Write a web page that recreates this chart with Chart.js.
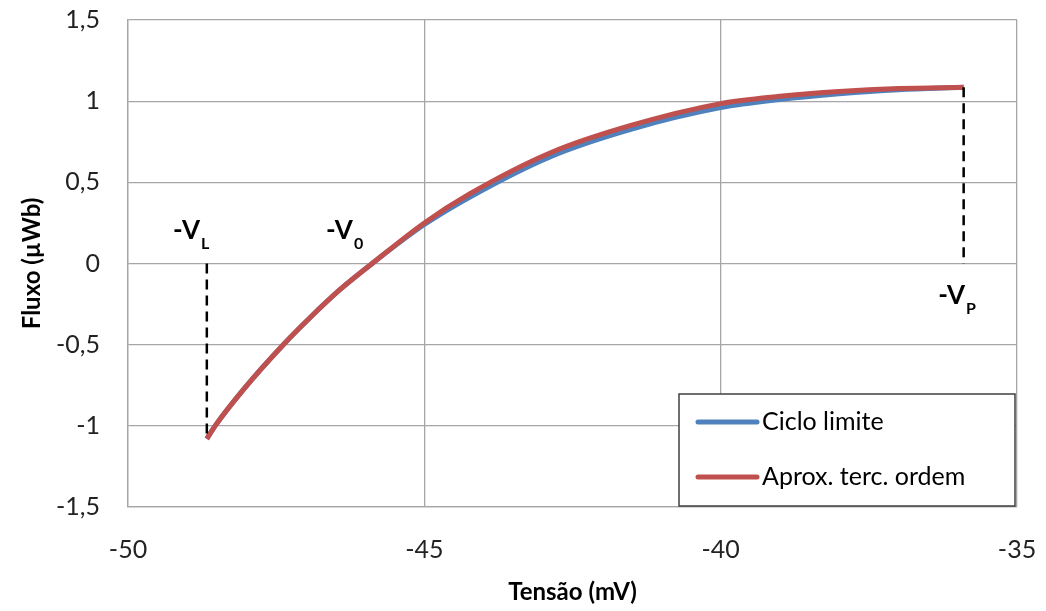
<!DOCTYPE html>
<html lang="pt">
<head>
    <meta charset="UTF-8">
    <title>Fluxo x Tensão</title>
    <script src="https://cdn.jsdelivr.net/npm/chart.js"></script>
    <style>
        body { margin: 0; background: #fff; }
    </style>
</head>
<body>
    <canvas id="fluxChart" width="1046" height="611"></canvas>
    <script>
        // valores (tensão em mV, fluxo em µWb)
        const tensaoAprox = [-48.67, -48.53, -48.05, -47.38, -46.93, -46.42, -45.88, -45.0, -44.23, -42.88, -41.53, -40.0, -39.0, -38.0, -37.0, -35.9];
        const fluxoAprox  = [-1.08, -1.0, -0.775, -0.5, -0.334, -0.16, 0.0, 0.25, 0.43, 0.681, 0.849, 0.985, 1.03, 1.06, 1.078, 1.085];
        const tensaoCiclo = [-48.67, -48.53, -48.05, -47.38, -46.93, -46.42, -45.88, -45.0, -44.23, -42.88, -41.53, -40.0, -39.0, -38.0, -37.0, -35.9];
        const fluxoCiclo  = [-1.08, -1.0, -0.775, -0.5, -0.334, -0.16, 0.0, 0.24, 0.41, 0.657, 0.825, 0.96, 1.01, 1.045, 1.07, 1.085];
        const seriesLabels = ['Ciclo limite', 'Aprox. terc. ordem'];
        const xTicks = [-50, -45, -40, -35];
        const yTicks = [-1.5, -1, -0.5, 0, 0.5, 1, 1.5];
        const markerSubs = ['L', '0', 'P'];

        const blue = '#4F81BD';
        const red = '#C0504D';
        const grid = '#A6A6A6';

        const toPts = (xs, ys) => xs.map((x, i) => ({ x: x, y: ys[i] }));
        const vL = tensaoAprox[0], vP = tensaoAprox[tensaoAprox.length - 1];

        // onde ficam os rótulos -V (em unidades do gráfico)
        const markerPos = [
            { x: -49.24, y: 0.148 },
            { x: -46.66, y: 0.148 },
            { x: -36.33, y: -0.252 }
        ];

        const labelsPlugin = {
            id: 'labelsPlugin',
            afterDatasetsDraw(chart) {
                const ctx = chart.ctx;
                const xs = chart.scales.x, ys = chart.scales.y;
                ctx.save();
                ctx.fillStyle = '#000';
                ctx.textBaseline = 'alphabetic';
                markerPos.forEach((p, i) => {
                    const px = xs.getPixelForValue(p.x);
                    const py = ys.getPixelForValue(p.y);
                    ctx.font = 'bold 26px Lato';
                    ctx.fillText('-V', px, py);
                    const w = ctx.measureText('-V').width;
                    ctx.font = 'bold 16px Lato';
                    ctx.fillText(markerSubs[i], px + w + 1, py + 10);
                });
                ctx.restore();
            },
            afterDraw(chart) {
                // legenda dentro da área do gráfico
                const ctx = chart.ctx;
                const x0 = 679, y0 = 394, w = 336, h = 112;
                ctx.save();
                ctx.fillStyle = '#fff';
                ctx.fillRect(x0, y0, w, h);
                ctx.strokeStyle = '#404040';
                ctx.lineWidth = 1.5;
                ctx.strokeRect(x0, y0, w, h);
                const items = [
                    { label: seriesLabels[0], color: blue, y: 422 },
                    { label: seriesLabels[1], color: red, y: 477 }
                ];
                items.forEach(it => {
                    ctx.strokeStyle = it.color;
                    ctx.lineWidth = 5;
                    ctx.lineCap = 'round';
                    ctx.beginPath();
                    ctx.moveTo(698, it.y);
                    ctx.lineTo(757, it.y);
                    ctx.stroke();
                    ctx.fillStyle = '#000';
                    ctx.font = '25px Lato';
                    ctx.textBaseline = 'middle';
                    ctx.fillText(it.label, 762, it.y);
                });
                ctx.restore();
            }
        };

        const fmt = v => String(v).replace('.', ',');

        new Chart(document.getElementById('fluxChart'), {
            type: 'scatter',
            data: {
                datasets: [
                    {
                        label: seriesLabels[1],
                        data: toPts(tensaoAprox, fluxoAprox),
                        showLine: true,
                        borderColor: red,
                        backgroundColor: red,
                        borderWidth: 5,
                        pointRadius: 0,
                        cubicInterpolationMode: 'monotone',
                        order: 1
                    },
                    {
                        label: seriesLabels[0],
                        data: toPts(tensaoCiclo, fluxoCiclo),
                        showLine: true,
                        borderColor: blue,
                        backgroundColor: blue,
                        borderWidth: 5,
                        pointRadius: 0,
                        cubicInterpolationMode: 'monotone',
                        order: 2
                    },
                    {
                        label: 'VL',
                        data: [{ x: vL, y: 0 }, { x: vL, y: fluxoAprox[0] }],
                        showLine: true,
                        borderColor: '#000',
                        borderWidth: 2.5,
                        borderDash: [10, 6],
                        pointRadius: 0,
                        order: 0
                    },
                    {
                        label: 'VP',
                        data: [{ x: vP, y: fluxoAprox[fluxoAprox.length - 1] }, { x: vP, y: 0 }],
                        showLine: true,
                        borderColor: '#000',
                        borderWidth: 2.5,
                        borderDash: [10, 6],
                        pointRadius: 0,
                        order: 0
                    }
                ]
            },
            options: {
                responsive: false,
                animation: false,
                layout: { padding: { top: 20, right: 29, left: 0, bottom: 0 } },
                plugins: {
                    legend: { display: false },
                    tooltip: { enabled: false }
                },
                scales: {
                    x: {
                        type: 'linear',
                        min: -50, max: -35,
                        afterBuildTicks: s => { s.ticks = xTicks.map(v => ({ value: v })); },
                        afterFit: s => { s.height = 104; s.paddingLeft = 0; s.paddingRight = 0; },
                        grid: { color: grid, lineWidth: 1.3, drawTicks: false },
                        border: { color: grid, width: 1.3 },
                        ticks: {
                            padding: 28,
                            color: '#222',
                            font: { family: 'Lato', size: 25 },
                            callback: fmt
                        },
                        title: {
                            display: true,
                            text: 'Tensão (mV)',
                            color: '#000',
                            font: { family: 'Lato', size: 24, weight: 'bold' },
                            padding: { top: 4, bottom: 4 }
                        }
                    },
                    y: {
                        min: -1.5, max: 1.5,
                        afterBuildTicks: s => { s.ticks = yTicks.map(v => ({ value: v })); },
                        afterFit: s => { s.width = 128; s.paddingTop = 0; s.paddingBottom = 0; },
                        grid: { color: grid, lineWidth: 1.3, drawTicks: false },
                        border: { color: grid, width: 1.3 },
                        ticks: {
                            padding: 28,
                            color: '#222',
                            font: { family: 'Lato', size: 25 },
                            callback: fmt
                        },
                        title: {
                            display: true,
                            text: 'Fluxo (µWb)',
                            color: '#000',
                            font: { family: 'Lato', size: 24, weight: 'bold' },
                            padding: { top: 18, bottom: 4 }
                        }
                    }
                }
            },
            plugins: [labelsPlugin]
        });
    </script>
</body>
</html>
